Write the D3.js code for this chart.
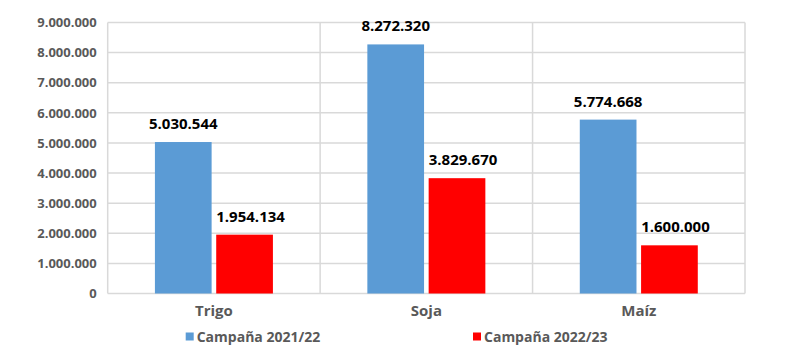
<!DOCTYPE html>
<html><head><meta charset="utf-8">
<script src="https://cdn.jsdelivr.net/npm/d3@7/dist/d3.min.js"></script>
<style>body{margin:0;background:#fff}svg{display:block}</style>
</head><body>
<svg id="c" width="790" height="361"></svg>
<script>
const categories = ["Trigo", "Soja", "Maíz"];
const seriesNames = ["Campaña 2021/22", "Campaña 2022/23"];
const values2021 = [5030544, 8272320, 5774668];
const values2022 = [1954134, 3829670, 1600000];
const yTicks = [0, 1000000, 2000000, 3000000, 4000000, 5000000, 6000000, 7000000, 8000000, 9000000];
const colors = ["#5b9bd5", "#ff0000"];

const svg = d3.select("#c");
const L = 107.7, R = 745, T = 22.5, B = 293.5;
const fmt = v => d3.format(",")(v).replace(/,/g, ".");

const x = d3.scaleBand().domain(categories).range([L, R]).padding(0);
const y = d3.scaleLinear().domain([0, 9000000]).range([B, T]);
const bw = x.bandwidth();
const barW = 56.7, gap = 4.6;
const groupW = barW * 2 + gap;
const sub = d3.scaleOrdinal().domain([0, 1]).range([(bw - groupW) / 2, (bw - groupW) / 2 + barW + gap]);

const grid = "#d9d9d9";
svg.append("g").selectAll("line").data(yTicks).join("line")
  .attr("x1", L).attr("x2", R).attr("y1", d => y(d)).attr("y2", d => y(d))
  .attr("stroke", grid).attr("stroke-width", 1.5);
const vx = [L, ...categories.slice(1).map(c => x(c)), R];
svg.append("g").selectAll("line").data(vx).join("line")
  .attr("x1", d => d).attr("x2", d => d).attr("y1", T).attr("y2", B)
  .attr("stroke", grid).attr("stroke-width", 1.5);

const yAxis = d3.axisLeft(y).tickValues(yTicks).tickFormat(fmt).tickSize(0).tickPadding(11);
const ya = svg.append("g").attr("transform", `translate(${L},0)`).call(yAxis);
ya.select(".domain").remove();
ya.selectAll("text").attr("font-family", "'Open Sans', sans-serif").attr("font-weight", "bold")
  .attr("font-size", 13).attr("fill", "#595959");

const xAxis = d3.axisBottom(x).tickSize(0).tickPadding(12);
const xa = svg.append("g").attr("transform", `translate(0,${B})`).call(xAxis);
xa.select(".domain").remove();
xa.selectAll("text").attr("font-family", "'Open Sans', sans-serif").attr("font-weight", "bold")
  .attr("font-size", 15).attr("fill", "#595959");

const series = [values2021, values2022];
series.forEach((vals, si) => {
  const g = svg.append("g");
  g.selectAll("rect").data(vals).join("rect")
    .attr("x", (d, i) => x(categories[i]) + sub(si))
    .attr("width", barW)
    .attr("y", d => y(d))
    .attr("height", d => B - y(d))
    .attr("fill", colors[si]);
  g.selectAll("text").data(vals).join("text")
    .attr("x", (d, i) => x(categories[i]) + sub(si) + barW / 2 + (si === 1 ? 6 : 0))
    .attr("y", d => y(d) - 13)
    .attr("text-anchor", "middle")
    .attr("font-family", "'Open Sans', sans-serif").attr("font-weight", "bold")
    .attr("font-size", 15).attr("fill", "#000")
    .text(fmt);
});

const legX = [185.7, 473];
const lg = svg.append("g");
seriesNames.forEach((n, i) => {
  lg.append("rect").attr("x", legX[i]).attr("y", 332.5).attr("width", 8).attr("height", 8).attr("fill", colors[i]);
  lg.append("text").attr("x", legX[i] + 11).attr("y", 342)
    .attr("font-family", "'Open Sans', sans-serif").attr("font-weight", "bold")
    .attr("font-size", 14).attr("fill", "#595959").text(n);
});
</script>
</body></html>
